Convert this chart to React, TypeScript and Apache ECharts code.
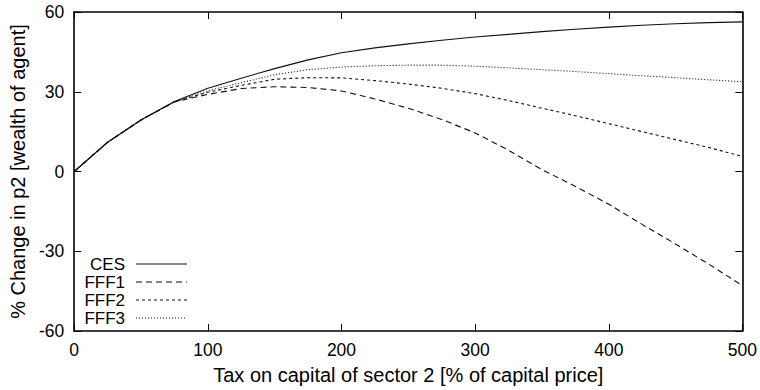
import React, { useEffect, useRef } from "react";
import * as echarts from "echarts";

const xValues = [0, 25, 50, 75, 100, 125, 150, 175, 200, 225, 250, 275, 300, 325, 350, 375, 400, 425, 450, 475, 500];
const ces = [0, 11, 19.4, 26.3, 31.3, 35.1, 38.7, 42, 44.7, 46.5, 48, 49.4, 50.6, 51.6, 52.6, 53.5, 54.3, 55, 55.6, 56, 56.3];
const fff1 = [0, 11, 19.4, 26.2, 29, 31.2, 31.9, 31.6, 30.3, 27.3, 23.8, 19.6, 14.5, 8, 0.7, -5.6, -12.3, -19.9, -27.3, -34.9, -42.9];
const fff2 = [0, 11, 19.4, 26.2, 29.8, 32.4, 34.7, 35.3, 35.2, 34.2, 32.9, 31.3, 29.3, 26.7, 23.8, 21, 18, 15, 12, 9, 5.7];
const fff3 = [0, 11, 19.4, 26.2, 30.4, 33.4, 36.4, 38.3, 39.3, 39.8, 40, 40, 39.6, 39, 38.3, 37.6, 36.8, 36, 35.3, 34.5, 33.8];
const seriesNames = ["CES", "FFF1", "FFF2", "FFF3"];
const xTicks = [0, 100, 200, 300, 400, 500];
const yTicks = [-60, -30, 0, 30, 60];

const FONT = "Liberation Sans, Arial, Helvetica, sans-serif";

export default function App() {
  const ref = useRef<HTMLDivElement>(null);
  useEffect(() => {
    if (!ref.current) return;
    const chart = echarts.init(ref.current, null, { renderer: "svg" });
    const pair = (ys: number[]) => xValues.map((x, i) => [x, ys[i]]);
    const dashes: any[] = ["solid", [6, 4], [3, 3], [1, 2]];
    const datas = [ces, fff1, fff2, fff3];
    const axisCommon = {
      axisLine: { show: true, onZero: false, lineStyle: { color: "#000", width: 1.6 } },
      axisTick: { show: true, inside: true, length: 7, lineStyle: { color: "#000", width: 1 } },
      splitLine: { show: false },
    };
    const legendGraphics: any[] = [];
    seriesNames.forEach((name, i) => {
      const y = 264 + i * 18;
      legendGraphics.push({
        type: "text",
        x: 125,
        y,
        style: { text: name, fill: "#000", font: `17px ${FONT}`, align: "right", verticalAlign: "middle" },
      });
      legendGraphics.push({
        type: "line",
        shape: { x1: 136, y1: y, x2: 187, y2: y },
        style: { stroke: "#111", lineWidth: 1.1, lineDash: dashes[i] === "solid" ? null : dashes[i] },
      });
    });
    chart.setOption({
      animation: false,
      backgroundColor: "#fff",
      textStyle: { fontFamily: FONT },
      grid: { left: 73, right: 17, top: 12, bottom: 57 },
      graphic: legendGraphics,
      xAxis: [
        {
          type: "value",
          min: 0,
          max: 500,
          interval: 100,
          position: "bottom",
          ...axisCommon,
          axisLabel: { color: "#000", fontSize: 17.5, fontFamily: FONT, margin: 10, customValues: xTicks },
          name: "Tax on capital of sector 2 [% of capital price]",
          nameLocation: "middle",
          nameGap: 34,
          nameTextStyle: { color: "#000", fontSize: 20, fontFamily: FONT },
        },
        {
          type: "value",
          min: 0,
          max: 500,
          interval: 100,
          position: "top",
          ...axisCommon,
          axisLabel: { show: false },
        },
      ],
      yAxis: [
        {
          type: "value",
          min: -60,
          max: 60,
          interval: 30,
          position: "left",
          ...axisCommon,
          axisLabel: { color: "#000", fontSize: 17.5, fontFamily: FONT, margin: 10, customValues: yTicks },
          name: "% Change in p2 [wealth of agent]",
          nameLocation: "middle",
          nameGap: 45,
          nameTextStyle: { color: "#000", fontSize: 20, fontFamily: FONT },
        },
        {
          type: "value",
          min: -60,
          max: 60,
          interval: 30,
          position: "right",
          ...axisCommon,
          axisLabel: { show: false },
        },
      ],
      series: seriesNames.map((name, i) => ({
        name,
        type: "line",
        data: pair(datas[i]),
        symbol: "none",
        showSymbol: false,
        color: "#111",
        lineStyle: { color: "#111", type: dashes[i], width: 1.1 },
        xAxisIndex: 0,
        yAxisIndex: 0,
      })),
    });
    return () => chart.dispose();
  }, []);
  return <div ref={ref} style={{ width: 760, height: 390, position: "absolute", left: 0, top: 0 }} />;
}
